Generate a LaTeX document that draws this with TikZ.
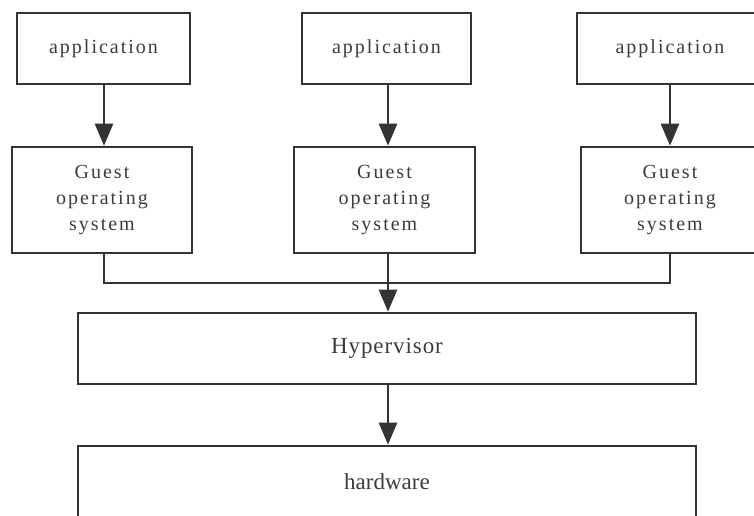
\documentclass[tikz,border=0pt]{standalone}
\usepackage{fontspec}
\setmainfont{Liberation Serif}
\newfontfamily\spacedfont[LetterSpace=10]{Liberation Serif}
\newfontfamily\hyperfont[LetterSpace=4]{Liberation Serif}
\usetikzlibrary{arrows.meta}
\definecolor{linegray}{HTML}{333333}
\definecolor{textgray}{HTML}{3c3c3c}

\begin{document}
\begin{tikzpicture}[x=1pt,y=1pt,
    box/.style={draw=linegray,line width=2.6pt,fill=white,text=textgray,
      align=center,inner sep=0pt},
    small/.style={font=\spacedfont\fontsize{20}{26}\selectfont},
    link/.style={draw=linegray,line width=2.6pt,
      -{Triangle[length=22pt,width=18pt]}},
    bus/.style={draw=linegray,line width=2.6pt}]
   \useasboundingbox (0,0) rectangle (754,515);
   % guests and their applications
   \node[box,small,minimum width=173,minimum height=71] (app1) at (103.5,466.5) {application};
   \node[box,small,minimum width=169,minimum height=71] (app2) at (386.5,466.5) {application};
   \node[box,small,minimum width=186,minimum height=71] (app3) at (670,466.5) {application};
   \node[box,small,minimum width=180,minimum height=106] (guest1) at (102,315) {Guest\\operating\\system};
   \node[box,small,minimum width=181,minimum height=106] (guest2) at (384.5,315) {Guest\\operating\\system};
   \node[box,small,minimum width=178,minimum height=106] (guest3) at (670,315) {Guest\\operating\\system};
   % lower layers
   \node[box,minimum width=618,minimum height=71,font=\hyperfont\fontsize{23}{26}\selectfont] (hyper) at (387,166.5) {Hypervisor};
   \node[box,minimum width=618,minimum height=72,font=\fontsize{23}{26}\selectfont] (hard) at (387,33) {hardware};
   \coordinate (busl) at (104,232);
   \coordinate (busm) at (388,232);
   \coordinate (busr) at (670,232);
   \draw[link] (app1.south -| busl) -- (guest1.north -| busl);
   \draw[link] (app2.south -| busm) -- (guest2.north -| busm);
   \draw[link] (app3.south -| busr) -- (guest3.north -| busr);
   \draw[bus] (guest1.south -| busl) -- (busl) -- (busr) -- (guest3.south -| busr);
   \draw[bus] (guest2.south -| busm) -- (busm);
   \draw[link] (busm) -- (hyper.north -| busm);
   \draw[link] (hyper.south -| busm) -- (hard.north -| busm);
  \end{tikzpicture}
\end{document}
